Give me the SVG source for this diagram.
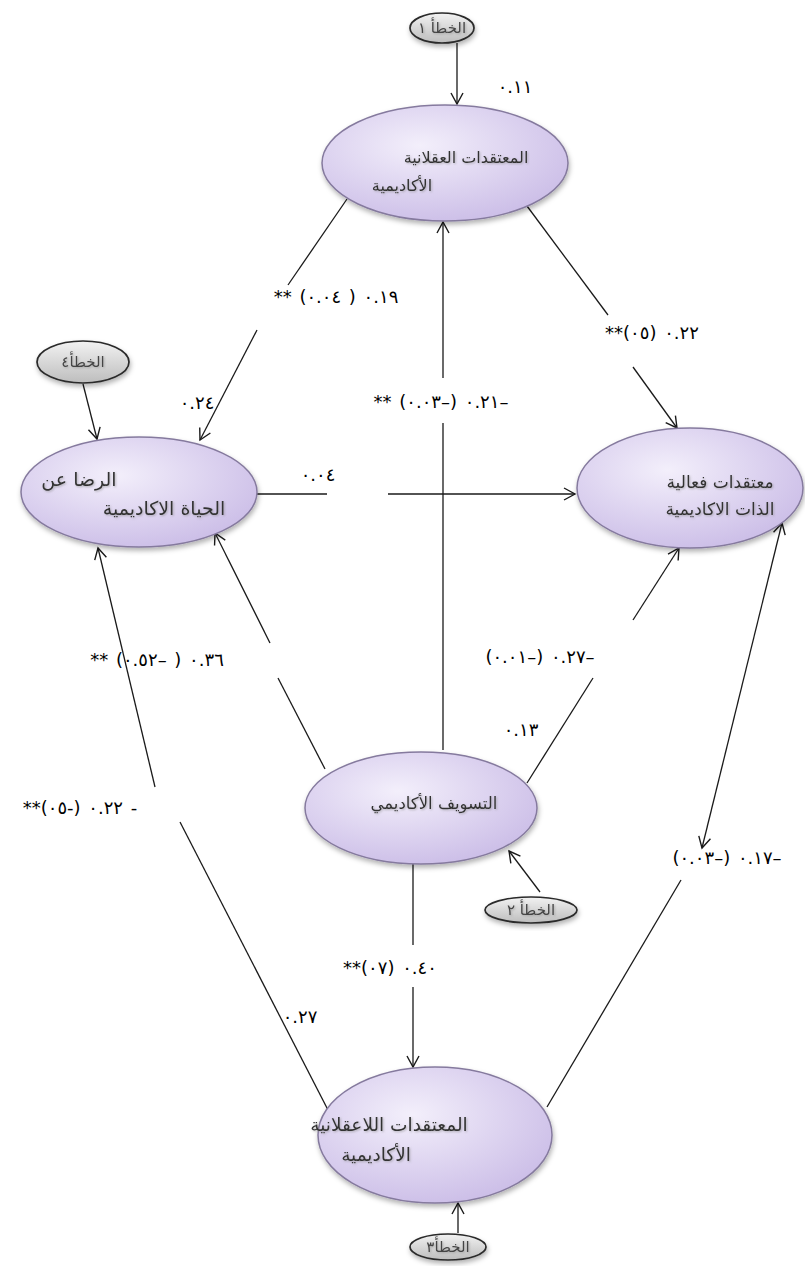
<svg xmlns="http://www.w3.org/2000/svg" width="805" height="1266" viewBox="0 0 805 1266">
<style>
.node{fill:url(#lav);stroke:#857a9e;stroke-width:1.5;filter:url(#sh)}
.err{fill:url(#gray);stroke:#2a2a2a;stroke-width:1.7;filter:url(#sh)}
.nt{font-family:'DejaVu Sans','Noto Sans',sans-serif;font-size:16px;fill:#333;text-anchor:middle;direction:rtl;filter:url(#ts)}
.et{font-family:'DejaVu Sans','Noto Sans',sans-serif;font-size:15px;fill:#444;text-anchor:middle;direction:rtl;filter:url(#ts)}
.lb{font-family:'DejaVu Sans','Noto Sans',sans-serif;font-size:18px;fill:#000;text-anchor:middle;direction:ltr;unicode-bidi:bidi-override;letter-spacing:1.2px;word-spacing:2px}
.c{stroke:#1a1a1a;stroke-width:1.3;fill:none}
.a{marker-end:url(#ah)}
.b{marker-start:url(#ah);marker-end:url(#ah)}
</style>
<defs>
<radialGradient id="lav" cx="0.4" cy="0.35" r="0.7">
<stop offset="0" stop-color="#f3effb"/>
<stop offset="1" stop-color="#cbbde7"/>
</radialGradient>
<linearGradient id="gray" x1="0" y1="0" x2="0" y2="1">
<stop offset="0" stop-color="#f2f2f2"/>
<stop offset="1" stop-color="#bdbdbd"/>
</linearGradient>
<filter id="sh" x="-20%" y="-20%" width="140%" height="150%">
<feDropShadow dx="1" dy="3" stdDeviation="2.5" flood-color="#000" flood-opacity="0.3"/>
</filter>
<filter id="ts" x="-10%" y="-30%" width="120%" height="160%">
<feDropShadow dx="1" dy="1" stdDeviation="0.8" flood-color="#888" flood-opacity="0.6"/>
</filter>
<marker id="ah" markerUnits="userSpaceOnUse" markerWidth="14" markerHeight="14" refX="12" refY="7" orient="auto-start-reverse">
<path d="M1,1 L12,7 L1,13" fill="none" stroke="#1a1a1a" stroke-width="1.4"/>
</marker>
</defs>

<g id="connectors">
<line class="c a" x1="457" y1="43" x2="457" y2="104"/>
<line class="c a" x1="83" y1="384" x2="97" y2="439"/>
<line class="c a" x1="540" y1="892" x2="509" y2="851"/>
<line class="c a" x1="458" y1="1233" x2="458" y2="1203"/>
<line class="c" x1="347" y1="199" x2="288" y2="285"/>
<line class="c a" x1="257" y1="330" x2="200" y2="440"/>
<line class="c" x1="527" y1="206" x2="608" y2="315"/>
<line class="c a" x1="633" y1="367" x2="677" y2="428"/>
<line class="c" x1="443" y1="750" x2="443" y2="423"/>
<line class="c a" x1="443" y1="378" x2="443" y2="222"/>
<line class="c" x1="257" y1="494" x2="327" y2="494"/>
<line class="c a" x1="388" y1="494" x2="575" y2="494"/>
<line class="c" x1="325" y1="769" x2="278" y2="678"/>
<line class="c a" x1="270" y1="643" x2="215" y2="533"/>
<line class="c" x1="527" y1="783" x2="593" y2="678"/>
<line class="c a" x1="633" y1="620" x2="679" y2="548"/>
<line class="c" x1="413" y1="864" x2="413" y2="945"/>
<line class="c a" x1="413" y1="987" x2="413" y2="1067"/>
<line class="c" x1="328" y1="1110" x2="180" y2="822"/>
<line class="c a" x1="155" y1="787" x2="98" y2="548"/>
<line class="c" x1="547" y1="1107" x2="681" y2="880"/>
<line class="c b" x1="702" y1="848" x2="782" y2="523"/>
</g>

<g id="err1"><ellipse class="err" cx="442" cy="28" rx="32" ry="15"/><text class="et" x="442" y="33">الخطأ ١</text></g>
<g id="err4"><ellipse class="err" cx="83" cy="362" rx="46" ry="21"/><text class="et" x="83" y="367">الخطأ٤</text></g>
<g id="err2"><ellipse class="err" cx="531" cy="910" rx="46" ry="13"/><text class="et" x="531" y="915">الخطأ ٢</text></g>
<g id="err3"><ellipse class="err" cx="448" cy="1247" rx="38" ry="13"/><text class="et" x="448" y="1252">الخطأ٣</text></g>

<g id="n-rational"><ellipse class="node" cx="445" cy="163" rx="123" ry="58"/>
<text class="nt" x="466" y="163">المعتقدات العقلانية</text>
<text class="nt" x="402" y="191">الأكاديمية</text></g>

<g id="n-satisfaction"><ellipse class="node" cx="139" cy="492" rx="118" ry="55"/>
<text class="nt" x="79" y="486" style="font-size:19px">الرضا عن</text>
<text class="nt" x="164" y="515" style="font-size:19px">الحياة الاكاديمية</text></g>

<g id="n-efficacy"><ellipse class="node" cx="690" cy="488" rx="113" ry="60"/>
<text class="nt" x="720" y="488" style="font-size:17px">معتقدات فعالية</text>
<text class="nt" x="720" y="515" style="font-size:17px">الذات الاكاديمية</text></g>

<g id="n-procrastination"><ellipse class="node" cx="421" cy="808" rx="116" ry="56"/>
<text class="nt" x="434" y="809" style="font-size:16.5px">التسويف الأكاديمي</text></g>

<g id="n-irrational"><ellipse class="node" cx="435" cy="1135" rx="117" ry="68"/>
<text class="nt" x="389" y="1131" style="font-size:18.5px">المعتقدات اللاعقلانية</text>
<text class="nt" x="376" y="1161" style="font-size:18.5px">الأكاديمية</text></g>

<g id="labels">
<text class="lb" x="515" y="93">٠.١١</text>
<text class="lb" x="336" y="303">** (٠.٠٤ ) ٠.١٩</text>
<text class="lb" x="652" y="339">**(٠٥) ٠.٢٢</text>
<text class="lb" x="197" y="409">٠.٢٤</text>
<text class="lb" x="441" y="408">** (٠.٠٣–) ٠.٢١–</text>
<text class="lb" x="318" y="481">٠.٠٤</text>
<text class="lb" x="157" y="666">** (٠.٥٢– ) ٠.٣٦</text>
<text class="lb" x="540" y="663">(٠.٠١–) ٠.٢٧–</text>
<text class="lb" x="521" y="736">٠.١٣</text>
<text class="lb" x="80" y="814">**(٠٥-) ٠.٢٢ -</text>
<text class="lb" x="727" y="864">(٠.٠٣–) ٠.١٧–</text>
<text class="lb" x="390" y="974">**(٠٧) ٠.٤٠</text>
<text class="lb" x="300" y="1023">٠.٢٧</text>
</g>
</svg>
